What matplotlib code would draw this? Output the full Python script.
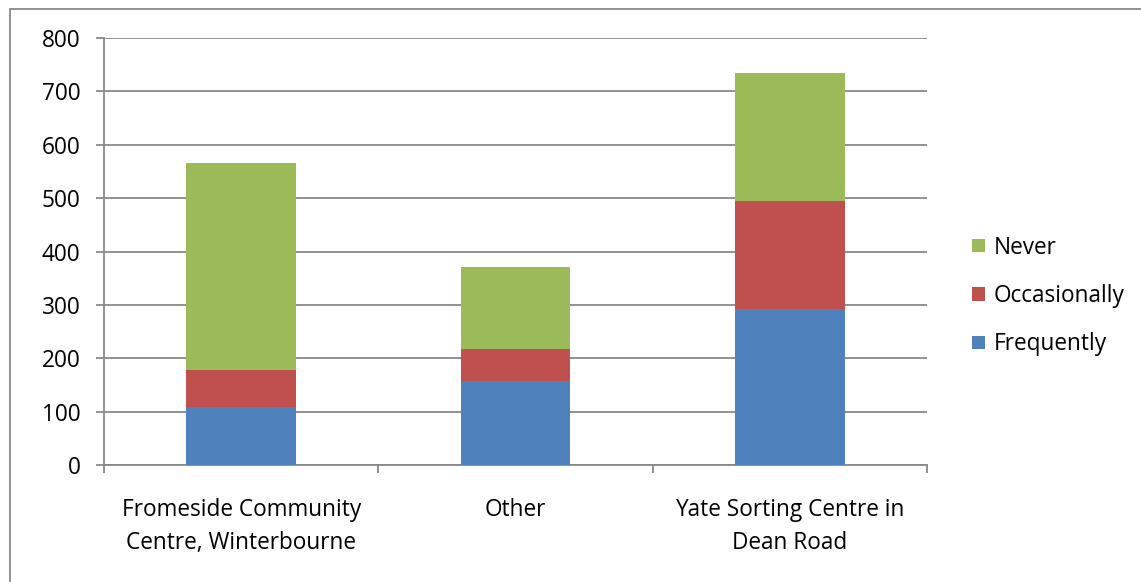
import numpy as np
import matplotlib
matplotlib.use("Agg")
import matplotlib.pyplot as plt
from matplotlib.patches import Rectangle

plt.rcParams['font.family'] = ['Open Sans', 'DejaVu Sans']

# datos
categorias = ["Fromeside Community\nCentre, Winterbourne", "Other",
              "Yate Sorting Centre in\nDean Road"]
frequently = [109, 157, 293]
occasionally = [69, 60, 202]
never = [388, 154, 240]
yticks = [0, 100, 200, 300, 400, 500, 600, 700, 800]

azul = '#4F81BD'
rojo = '#C0504D'
verde = '#9BBB59'
gris = '#888888'
fs = 16.3

fig = plt.figure(figsize=(11.41, 5.82), dpi=100)
ax = fig.add_axes([104 / 1141, 1 - 465 / 582, (927 - 104) / 1141, (465 - 38) / 582])

x = np.arange(len(categorias))
ancho = 0.4
b1 = ax.bar(x, frequently, ancho, color=azul, label='Frequently', zorder=3)
b2 = ax.bar(x, occasionally, ancho, bottom=frequently, color=rojo,
            label='Occasionally', zorder=3)
base = np.array(frequently) + np.array(occasionally)
b3 = ax.bar(x, never, ancho, bottom=base, color=verde, label='Never', zorder=3)

ax.set_xlim(-0.5, 2.5)
ax.set_ylim(0, 800)
ax.set_yticks(yticks)
ax.yaxis.grid(True, color=gris, lw=1.3, zorder=0)
ax.set_axisbelow(True)

# ticks de categorias en los bordes, etiquetas en el centro
ax.set_xticks(x)
ax.set_xticklabels(categorias, fontsize=fs, linespacing=1.48)
ax.tick_params(axis='x', which='major', length=0, pad=24)
ax.set_xticks([-0.5, 0.5, 1.5, 2.5], minor=True)
ax.tick_params(axis='x', which='minor', length=6, width=1.3, color=gris)
ax.tick_params(axis='y', length=6, width=1.3, color=gris, labelsize=fs, pad=11)

for s in ['top', 'right']:
    ax.spines[s].set_visible(False)
for s in ['left', 'bottom']:
    ax.spines[s].set_color(gris)
    ax.spines[s].set_linewidth(1.3)

ax.legend([b3, b2, b1], ['Never', 'Occasionally', 'Frequently'],
          loc='center left', bbox_to_anchor=(952 / 1141, 1 - 296 / 582),
          bbox_transform=fig.transFigure, frameon=False, fontsize=fs,
          handlelength=0.55, handleheight=0.55, handletextpad=0.4,
          labelspacing=1.08)

# borde exterior del grafico
fig.patches.append(Rectangle((9.5 / 1141, -0.1), 1.2, 1.1 - 8.5 / 582,
                             transform=fig.transFigure, fill=False,
                             edgecolor=gris, lw=1.3))

fig.savefig('out.png', dpi=100)
